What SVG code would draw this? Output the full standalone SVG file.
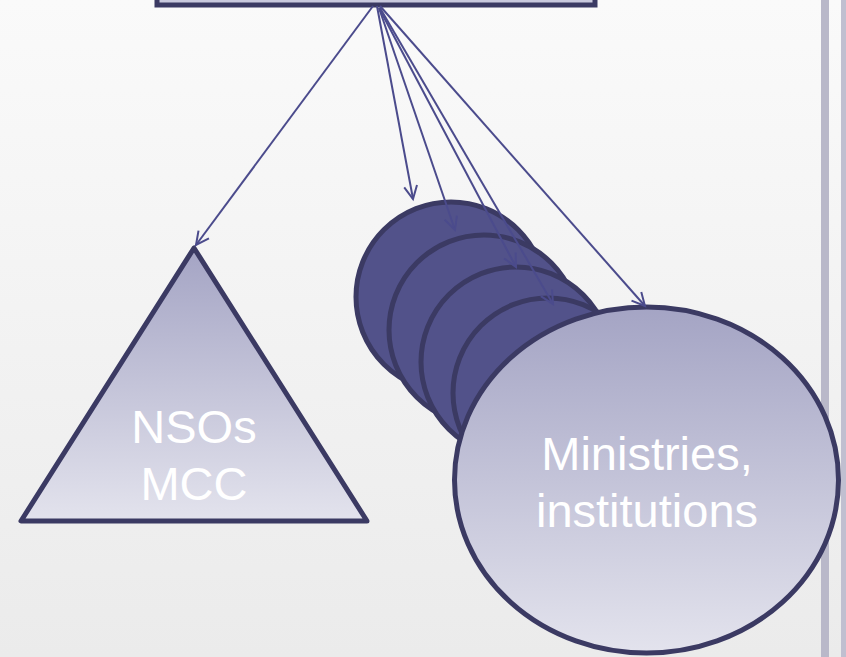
<svg xmlns="http://www.w3.org/2000/svg" width="846" height="657" viewBox="0 0 846 657">
<defs>
<linearGradient id="bg" x1="0" y1="0" x2="0" y2="1">
<stop offset="0" stop-color="#fafafa"/>
<stop offset="1" stop-color="#ebebeb"/>
</linearGradient>
<linearGradient id="lite" x1="0" y1="0" x2="0" y2="1">
<stop offset="0" stop-color="#a4a4c4"/>
<stop offset="1" stop-color="#e3e3ed"/>
</linearGradient>
<marker id="arr" markerUnits="userSpaceOnUse" markerWidth="18" markerHeight="18" refX="14" refY="8" orient="auto">
<path d="M1,1.5 L14,8 L1,14.5" fill="none" stroke="#4b4b8c" stroke-width="2"/>
</marker>
<style>
.edge{stroke:#4b4b8c;stroke-width:2;fill:none;marker-end:url(#arr)}
.dark{fill:#52528a;stroke:#3b3a63;stroke-width:5}
.light{fill:url(#lite);stroke:#3b3a63;stroke-width:5}
.lbl{font-family:"Liberation Sans",Arial,sans-serif;font-size:47px;fill:#ffffff;text-anchor:middle}
</style>
</defs>
<rect x="0" y="0" width="846" height="657" fill="url(#bg)"/>
<rect x="821" y="0" width="8" height="657" fill="#b9b8c9"/>
<rect x="841" y="0" width="5" height="657" fill="#c0bfd0"/>
<g id="source">
<rect x="157" y="-30" width="438" height="35" fill="#c9c9dd" stroke="#3b3a63" stroke-width="5"/>
</g>
<g id="nsos">
<polygon points="194,248 21,521 367,521" class="light" stroke-linejoin="round"/>
<text class="lbl" x="194" y="443">NSOs</text>
<text class="lbl" x="194" y="500">MCC</text>
</g>
<g id="circle1"><circle cx="451" cy="297" r="95" class="dark"/></g>
<g id="circle2"><circle cx="484" cy="330" r="95" class="dark"/></g>
<g id="circle3"><circle cx="516" cy="362" r="95" class="dark"/></g>
<g id="circle4"><circle cx="548" cy="393" r="95" class="dark"/></g>
<g id="ministries">
<ellipse cx="646.5" cy="480" rx="192" ry="173" class="light"/>
<text class="lbl" x="647" y="470">Ministries,</text>
<text class="lbl" x="647" y="527">institutions</text>
</g>
<g id="connectors">
<line class="edge" x1="373" y1="6" x2="196" y2="245"/>
<line class="edge" x1="377" y1="6" x2="413" y2="199"/>
<line class="edge" x1="379" y1="8" x2="455" y2="230"/>
<line class="edge" x1="379" y1="8" x2="516" y2="267"/>
<line class="edge" x1="380" y1="8" x2="553" y2="304"/>
<line class="edge" x1="380" y1="6" x2="645" y2="306"/>
</g>
</svg>
